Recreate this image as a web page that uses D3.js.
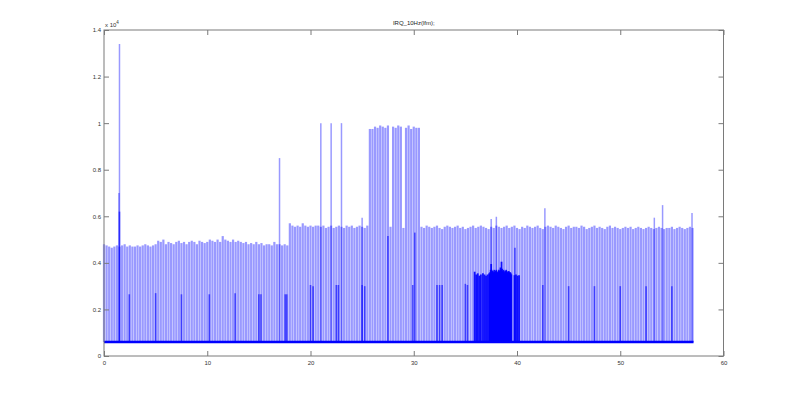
<!DOCTYPE html>
<html>
<head>
<meta charset="utf-8">
<script src="https://cdn.jsdelivr.net/npm/d3@7"></script>
<style>
  body { margin: 0; background: #fff; }
  svg { display: block; }
</style>
</head>
<body>
<div id="chart"></div>
<script>
// values in units of 1e4
const title = "IRQ_10Hz(lfm);";
const xTicks = [0, 10, 20, 30, 40, 50, 60];
const yTicks = [0, 0.2, 0.4, 0.6, 0.8, 1, 1.2, 1.4];

// regular pulses, one every 0.25 s starting at t = 0
const pulseStep = 0.25;
const pulseValues = [
  0.48, 0.475, 0.47, 0.465, 0.47, 0.475,
  0.47, 0.475, 0.48, 0.47, 0.475, 0.47, 0.47, 0.475, 0.47, 0.475, 0.48, 0.475, 0.47, 0.475,
  0.48, 0.495, 0.49, 0.50,
  0.48, 0.49, 0.485, 0.48, 0.49, 0.495, 0.485, 0.49, 0.48, 0.49, 0.495, 0.49, 0.48, 0.495, 0.49, 0.485,
  0.49, 0.50, 0.495, 0.49, 0.50, 0.49, 0.515, 0.50, 0.495, 0.49, 0.50, 0.49,
  0.495, 0.49, 0.485, 0.49, 0.48, 0.485, 0.48, 0.49, 0.48, 0.485, 0.475, 0.48,
  0.48, 0.475, 0.49, 0.48, 0.48, 0.475, 0.48, 0.475,
  0.57, 0.56, 0.555, 0.56, 0.555, 0.57, 0.56, 0.555, 0.56, 0.555, 0.56,
  0.56, 0.555, 0.56, 0.55, 0.555, 0.56, 0.55, 0.555, 0.56, 0.555, 0.55, 0.56, 0.555, 0.56, 0.55, 0.555, 0.56, 0.555, 0.55, 0.56,
  0.975, 0.975, 0.985, 0.98, 0.99, 0.985, 0.98, 0.99, 0.555, 0.985, 0.98, 0.99, 0.985, 0.55, 0.98, 0.99, 0.975, 0.985, 0.98, 0.98,
  0.555, 0.55, 0.56, 0.555, 0.55, 0.555, 0.56, 0.55, 0.545, 0.555, 0.56, 0.555, 0.55, 0.555, 0.56, 0.55, 0.555, 0.545, 0.55, 0.555,
  0.56, 0.55, 0.555, 0.56, 0.555, 0.55, 0.545, 0.555, 0.55, 0.56, 0.555, 0.55, 0.555, 0.56, 0.55, 0.555, 0.56, 0.55, 0.545, 0.555,
  0.55, 0.56, 0.555, 0.55, 0.555, 0.56, 0.55, 0.545, 0.555, 0.56, 0.555, 0.55, 0.56, 0.555, 0.55, 0.545, 0.555, 0.56, 0.55, 0.555,
  0.555, 0.55, 0.56, 0.555, 0.545, 0.55, 0.555, 0.56, 0.55, 0.555, 0.55, 0.545, 0.555, 0.56, 0.55, 0.555, 0.55, 0.545, 0.55, 0.555,
  0.55, 0.555, 0.545, 0.55, 0.555, 0.55, 0.545, 0.55, 0.555, 0.55, 0.545, 0.55, 0.555, 0.55, 0.545, 0.55, 0.55, 0.555, 0.545, 0.55,
  0.555, 0.55, 0.545, 0.55, 0.555, 0.55
];

// isolated tall pulses
const spikeTimes  = [1.45, 1.5, 17.0, 21.0, 22.0, 23.0, 25.0, 37.5, 38.0, 42.7, 53.3, 54.1, 56.95];
const spikeValues = [0.70, 1.34, 0.85, 1.0, 1.0, 1.0, 0.594, 0.588, 0.598, 0.634, 0.594, 0.648, 0.614];

// darker mid-level pulses
const midTimes  = [1.5, 2.45, 5.0, 7.5, 10.2, 12.7, 15.0, 15.2, 17.55, 17.7, 20.0, 20.25, 22.5, 22.7, 25.0, 25.25,
  27.5, 29.9, 30.1, 32.25, 32.5, 32.75, 35.0, 35.2, 39.8, 42.5, 45.0, 47.5, 50.0, 52.5, 55.0];
const midValues = [0.62, 0.265, 0.27, 0.265, 0.265, 0.27, 0.265, 0.265, 0.265, 0.265, 0.305, 0.30, 0.305, 0.305, 0.305, 0.30,
  0.515, 0.305, 0.53, 0.305, 0.305, 0.305, 0.31, 0.305, 0.465, 0.305, 0.30, 0.30, 0.30, 0.30, 0.30];

// dense burst around 36-40 s
const burstTimes = [35.9, 36.05, 36.2, 36.35, 36.5, 36.7, 36.85, 37.0, 37.15,
  37.3, 37.35, 37.4, 37.45, 37.5, 37.55, 37.6, 37.65, 37.7, 37.75, 37.8, 37.85, 37.9, 37.95,
  38.0, 38.05, 38.1, 38.15, 38.2, 38.25, 38.3, 38.35, 38.4, 38.45, 38.5, 38.55, 38.6, 38.65,
  38.7, 38.75, 38.8, 38.85, 38.9, 38.95, 39.0, 39.05, 39.1, 39.15, 39.2, 39.25, 39.3, 39.35, 39.4, 39.45,
  39.75, 39.9, 40.05, 40.2];
const burstValues = [0.362, 0.35, 0.355, 0.345, 0.35, 0.355, 0.35, 0.345, 0.35,
  0.355, 0.35, 0.36, 0.37, 0.395, 0.37, 0.36, 0.365, 0.355, 0.36, 0.37, 0.36, 0.355, 0.365,
  0.37, 0.36, 0.355, 0.36, 0.365, 0.37, 0.36, 0.365, 0.38, 0.37, 0.405, 0.375, 0.36, 0.365,
  0.37, 0.36, 0.355, 0.365, 0.36, 0.37, 0.365, 0.36, 0.355, 0.36, 0.365, 0.36, 0.355, 0.36, 0.355, 0.35,
  0.347, 0.35, 0.345, 0.347];

// baseline level between pulses
const baseTimes  = [0, 57.1];
const baseValues = [0.06, 0.06];

const width = 800, height = 400;
const margin = { top: 30, right: 76.5, bottom: 44, left: 104 };

const svg = d3.select("#chart").append("svg")
  .attr("width", width)
  .attr("height", height)
  .style("font-family", "'Liberation Sans', Arial, sans-serif");

const x = d3.scaleLinear().domain([0, 60]).range([margin.left, width - margin.right]);
const y = d3.scaleLinear().domain([0, 1.4]).range([height - margin.bottom, margin.top]);

const base = baseValues[0];
const blue = "#0000ff";

// regular pulses
svg.append("g")
  .selectAll("line")
  .data(pulseValues)
  .join("line")
  .attr("x1", (d, i) => x(i * pulseStep))
  .attr("x2", (d, i) => x(i * pulseStep))
  .attr("y1", y(base))
  .attr("y2", d => y(d))
  .attr("stroke", blue)
  .attr("stroke-opacity", 0.4)
  .attr("stroke-width", 2.2);

// tall single pulses
svg.append("g")
  .selectAll("line")
  .data(spikeTimes)
  .join("line")
  .attr("x1", d => x(d))
  .attr("x2", d => x(d))
  .attr("y1", y(base))
  .attr("y2", (d, i) => y(spikeValues[i]))
  .attr("stroke", blue)
  .attr("stroke-opacity", 0.4)
  .attr("stroke-width", 1.5);

// darker mid pulses
svg.append("g")
  .selectAll("line")
  .data(midTimes)
  .join("line")
  .attr("x1", d => x(d))
  .attr("x2", d => x(d))
  .attr("y1", y(base))
  .attr("y2", (d, i) => y(midValues[i]))
  .attr("stroke", blue)
  .attr("stroke-opacity", 0.6)
  .attr("stroke-width", 1.6);

// dense burst
svg.append("g")
  .selectAll("line")
  .data(burstTimes)
  .join("line")
  .attr("x1", d => x(d))
  .attr("x2", d => x(d))
  .attr("y1", y(base))
  .attr("y2", (d, i) => y(burstValues[i]))
  .attr("stroke", blue)
  .attr("stroke-opacity", 0.9)
  .attr("stroke-width", 1.8);

// baseline
svg.append("path")
  .datum(baseTimes.map((t, i) => [t, baseValues[i]]))
  .attr("d", d3.line().x(d => x(d[0])).y(d => y(d[1])))
  .attr("fill", "none")
  .attr("stroke", blue)
  .attr("stroke-width", 2.4);

// axes box with inward ticks on all sides
const axisColor = "#7a7a7a";
const tickLen = 5;
const fontSize = 6;

function styleAxis(g) {
  g.select(".domain").remove();
  g.selectAll(".tick line").attr("stroke", axisColor);
  g.selectAll(".tick text").attr("fill", "#333").style("font-size", fontSize + "px");
}

svg.append("g")
  .attr("transform", `translate(0,${y(0)})`)
  .call(d3.axisBottom(x).tickValues(xTicks).tickSize(-tickLen).tickPadding(4).tickFormat(d3.format("d")))
  .call(styleAxis)
  .call(g => g.selectAll(".tick text").attr("dy", "0.9em"));

svg.append("g")
  .attr("transform", `translate(0,${y(1.4)})`)
  .call(d3.axisTop(x).tickValues(xTicks).tickSize(-tickLen).tickFormat(""))
  .call(styleAxis);

svg.append("g")
  .attr("transform", `translate(${x(0)},0)`)
  .call(d3.axisLeft(y).tickValues(yTicks).tickSize(-tickLen).tickPadding(3).tickFormat(d => d === 0 ? "0" : d3.format("~g")(d)))
  .call(styleAxis);

svg.append("g")
  .attr("transform", `translate(${x(60)},0)`)
  .call(d3.axisRight(y).tickValues(yTicks).tickSize(-tickLen).tickFormat(""))
  .call(styleAxis);

svg.append("rect")
  .attr("x", x(0))
  .attr("y", y(1.4))
  .attr("width", x(60) - x(0))
  .attr("height", y(0) - y(1.4))
  .attr("fill", "none")
  .attr("stroke", axisColor)
  .attr("stroke-width", 1);

// exponent label
const expo = svg.append("text")
  .attr("x", x(0) + 1)
  .attr("y", y(1.4) - 3)
  .attr("fill", "#333")
  .style("font-size", fontSize + "px");
expo.append("tspan").text("x 10");
expo.append("tspan").attr("dy", -3.5).style("font-size", "4.5px").text("4");

// title
svg.append("text")
  .attr("x", (x(0) + x(60)) / 2)
  .attr("y", 25)
  .attr("text-anchor", "middle")
  .attr("fill", "#222")
  .style("font-size", fontSize + "px")
  .text(title);
</script>
</body>
</html>
